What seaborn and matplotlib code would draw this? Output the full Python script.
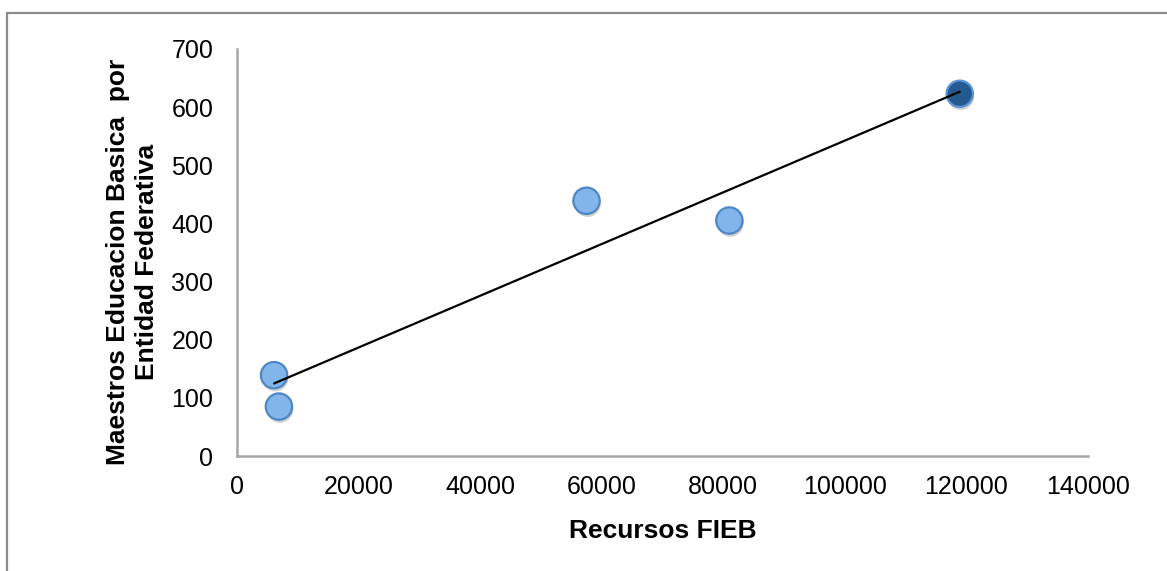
import matplotlib
matplotlib.use("Agg")
import matplotlib.pyplot as plt
import matplotlib.patheffects as pe
from matplotlib.patches import Rectangle
import seaborn as sns
import pandas as pd

# Resources (FIEB) vs. basic-education teachers per federal entity
recursos_fieb = [6100, 6900, 57500, 81000, 118900]
maestros = [139, 85, 439, 405, 623]
destacado = [False, False, False, False, True]

x_ticks = [0, 20000, 40000, 60000, 80000, 100000, 120000, 140000]
y_ticks = [0, 100, 200, 300, 400, 500, 600, 700]

df = pd.DataFrame({"recursos": recursos_fieb, "maestros": maestros, "destacado": destacado})

sns.set_theme(style="white")
plt.rcParams["font.family"] = ["Liberation Sans", "DejaVu Sans"]

fig = plt.figure(figsize=(11.67, 5.71), dpi=100)
ax = fig.add_axes([237 / 1167, 1 - 456 / 571, (1088 - 237) / 1167, (456 - 49) / 571])

axis_grey = "#a6a6a6"

shadow = [pe.SimplePatchShadow(offset=(0.8, -2.2), shadow_rgbFace="#7f7f7f", alpha=0.35), pe.Normal()]

normal = df[~df["destacado"]]
dark = df[df["destacado"]]

sns.scatterplot(data=normal, x="recursos", y="maestros", ax=ax, s=360,
                color="#82b5ea", edgecolor="#4f86c4", linewidth=1.6, zorder=3,
                path_effects=shadow)
sns.scatterplot(data=dark, x="recursos", y="maestros", ax=ax, s=360,
                color="#245a91", edgecolor="#5a94d4", linewidth=1.6, zorder=3,
                path_effects=shadow)

# Least-squares trend line over the data range
sns.regplot(data=df, x="recursos", y="maestros", ax=ax, scatter=False, ci=None,
            truncate=True, line_kws={"color": "black", "linewidth": 1.6, "zorder": 4})

ax.set_xlim(0, 140000)
ax.set_ylim(0, 700)
ax.set_xticks(x_ticks)
ax.set_yticks(y_ticks)
ax.set_xticklabels([str(v) for v in x_ticks])
ax.set_yticklabels([str(v) for v in y_ticks])

for side in ["top", "right"]:
    ax.spines[side].set_visible(False)
for side in ["left", "bottom"]:
    ax.spines[side].set_color(axis_grey)
    ax.spines[side].set_linewidth(1.8)

ax.tick_params(axis="both", which="major", direction="out", length=7, width=1.6,
               color=axis_grey, labelsize=18, labelcolor="black")
ax.tick_params(axis="x", pad=7)
ax.tick_params(axis="y", pad=10)
ax.grid(False)

ax.set_xlabel("Recursos FIEB", fontsize=19, fontweight="bold", labelpad=14, color="black")
ax.set_ylabel("Maestros Educacion Basica  por\nEntidad Federativa", fontsize=19,
              fontweight="bold", linespacing=1.25, color="black")
ax.yaxis.set_label_coords(-0.092, 0.476)

# Outer chart frame
fig.add_artist(Rectangle((7 / 1167, -0.2), 1.2, 0.2 + (571 - 13) / 571,
                         transform=fig.transFigure, fill=False,
                         edgecolor="#8c8c8c", linewidth=1.6, clip_on=False))

fig.savefig("out.png", dpi=100)
